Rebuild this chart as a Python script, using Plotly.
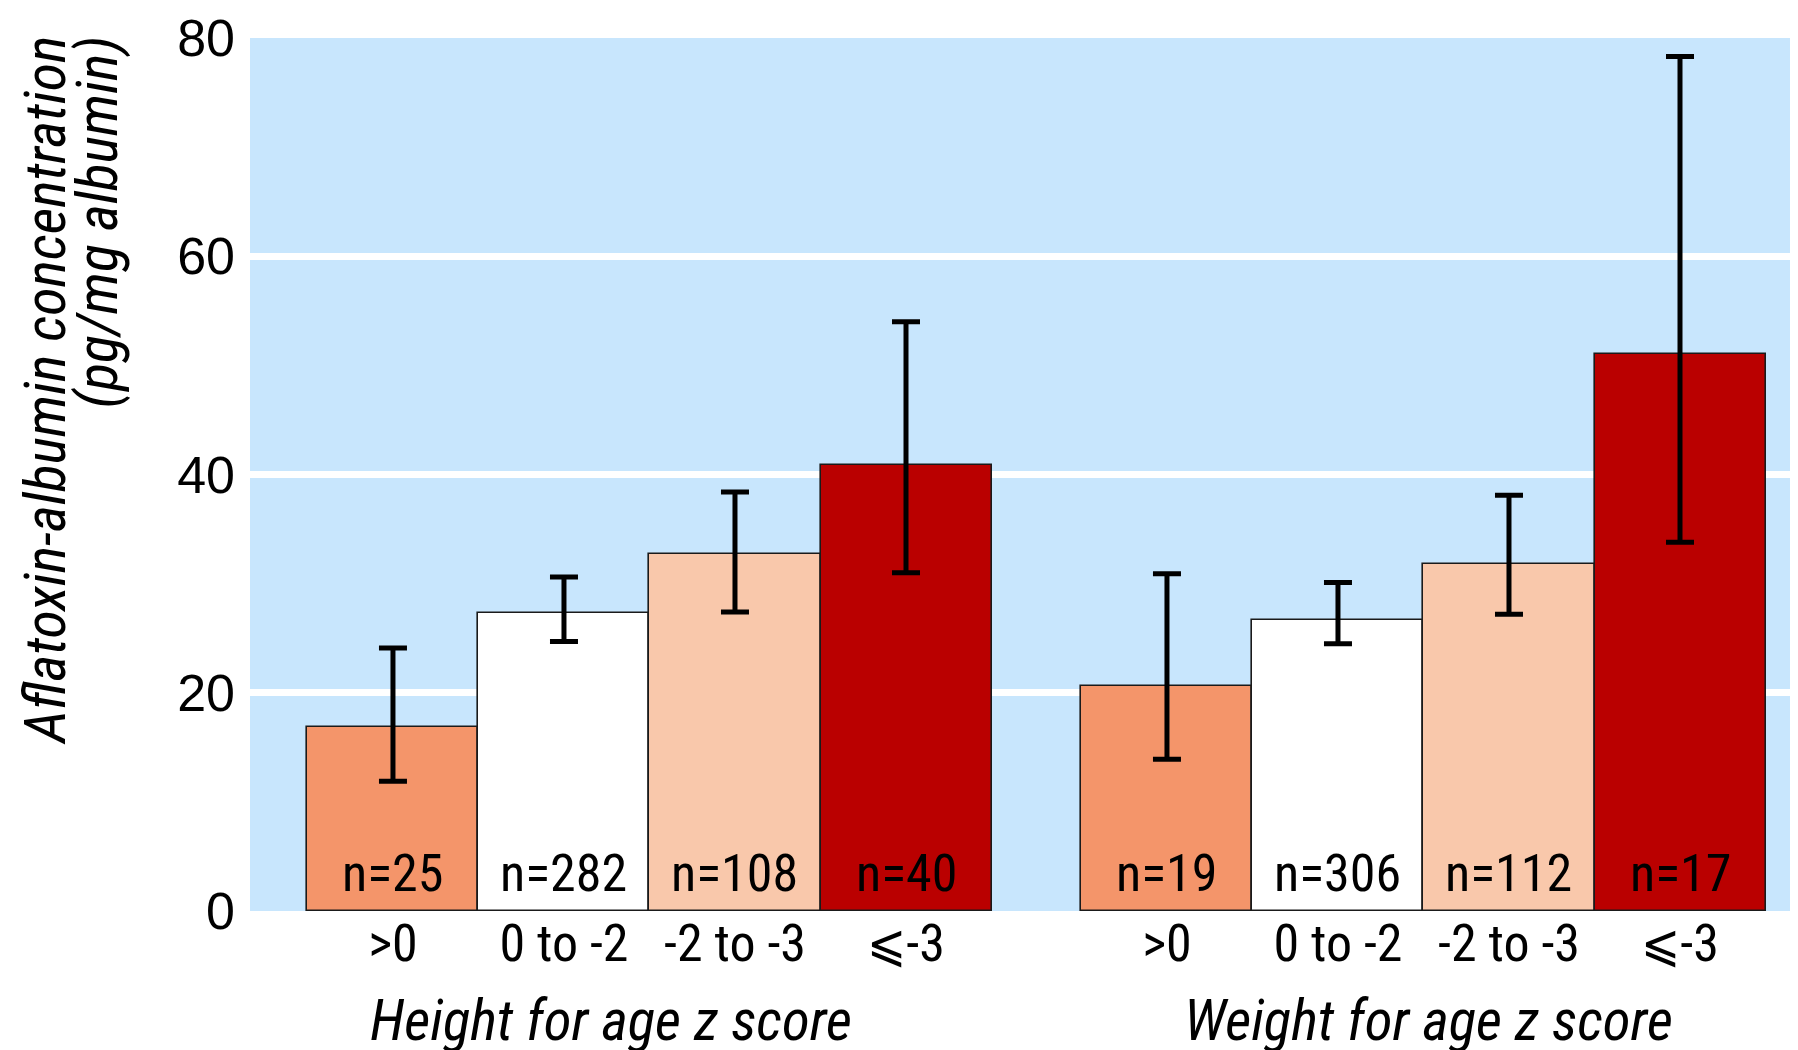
import plotly.graph_objects as go

# ---- data ----
categories = [">0", "0 to -2", "-2 to -3", "⩽-3"]
groups = ["Height for age z score", "Weight for age z score"]
height_means = [16.9, 27.3, 32.7, 40.9]
height_upper = [24.1, 30.6, 38.4, 54.0]
height_lower = [11.9, 24.7, 27.4, 31.0]
height_n = ["n=25", "n=282", "n=108", "n=40"]
weight_means = [20.6, 26.7, 31.8, 51.0]
weight_upper = [30.9, 30.1, 38.1, 78.3]
weight_lower = [13.9, 24.5, 27.2, 33.8]
weight_n = ["n=19", "n=306", "n=112", "n=17"]
y_ticks = [0, 20, 40, 60, 80]
y_title_lines = ["Aflatoxin-albumin concentration", "(pg/mg albumin)"]

# ---- styling / layout ----
colors = ["#F4956A", "#FFFFFF", "#F9C8AB", "#BA0000"]
NARROW = "Roboto Condensed, Liberation Sans Narrow, DejaVu Sans Condensed, sans-serif"
REG = "Liberation Sans, Arial, sans-serif"
gap = 1.526                      # centre distance between last bar of group 1 and first of group 2
title_offset = [-0.225, 0.03]    # horizontal nudge of each group title (bar units)
ytitle_xshift = [-206, -154]     # px from plot left edge for the two y-title lines

ncat = len(categories)
fig = go.Figure()
tickvals, ticktext = [], []
annotations = []
series = [(height_means, height_upper, height_lower, height_n),
          (weight_means, weight_upper, weight_lower, weight_n)]
for g, (means, up, lo, ns) in enumerate(series):
    xs = [i + g * (ncat - 1 + gap) for i in range(ncat)]
    fig.add_trace(go.Bar(
        x=xs, y=means, width=1,
        marker=dict(color=colors, line=dict(color="#1a1a1a", width=1.6)),
        error_y=dict(type="data", symmetric=False,
                     array=[u - m for u, m in zip(up, means)],
                     arrayminus=[m - l for m, l in zip(means, lo)],
                     color="black", thickness=5, width=14),
        showlegend=False, hoverinfo="skip",
    ))
    tickvals += xs
    ticktext += categories
    for x, t in zip(xs, ns):
        annotations.append(dict(x=x, y=0, xref="x", yref="y", text=t,
                                showarrow=False, yanchor="bottom", yshift=5,
                                font=dict(family=NARROW, size=52, color="black")))
    annotations.append(dict(x=(xs[0] + xs[-1]) / 2 + title_offset[g], y=-0.126,
                            xref="x", yref="paper",
                            text=f"<i>{groups[g]}</i>", showarrow=False,
                            yanchor="middle", xanchor="center",
                            font=dict(family=NARROW, size=57, color="black")))

for line, xs_ in zip(y_title_lines, ytitle_xshift):
    annotations.append(dict(x=0, y=1.0, xref="paper", yref="paper", xshift=xs_,
                            text=f"<i>{line}</i>", showarrow=False, textangle=-90,
                            xanchor="center", yanchor="top", yshift=4,
                            font=dict(family=NARROW, size=58, color="black")))

fig.update_layout(
    width=1790, height=1042,
    margin=dict(l=242, r=0, t=30, b=139),
    paper_bgcolor="white", plot_bgcolor="#C8E6FD",
    bargap=0, annotations=annotations,
    xaxis=dict(range=[-0.836, 8.216], tickvals=tickvals, ticktext=ticktext,
               showgrid=False, zeroline=False, showline=False, ticks="",
               automargin=False,
               tickfont=dict(family=NARROW, size=52, color="black"),
               ticklabelstandoff=-3),
    yaxis=dict(range=[0, 80], tickvals=y_ticks, showgrid=True, gridcolor="white",
               gridwidth=7, zeroline=False, showline=False, ticks="",
               automargin=False,
               tickfont=dict(family=REG, size=52, color="black"),
               ticklabelstandoff=14),
)

fig.write_html("out.html")
